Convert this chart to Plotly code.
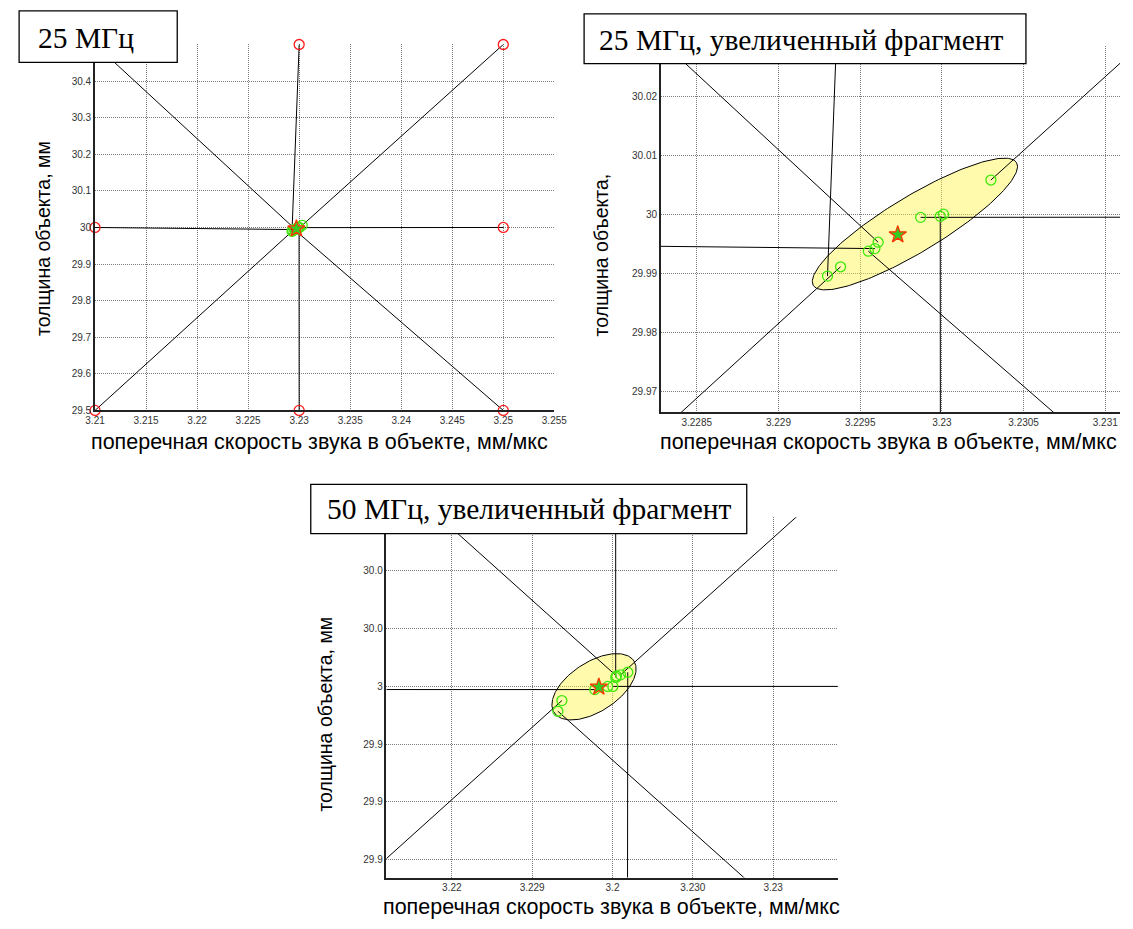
import numpy as np
import plotly.graph_objects as go

W, H = 1133, 929

# ---------------- data ----------------
# initial guesses (velocity mm/us, thickness mm) - same for both frequencies
start_v = [3.21, 3.21, 3.21, 3.23, 3.25, 3.25, 3.25, 3.23]
start_h = [29.5, 30.0, 30.5, 30.5, 30.5, 30.0, 29.5, 29.5]

# 25 MHz converged estimates (first 8 correspond to start points, last one extra)
end_v25 = [3.22938, 3.22959, 3.22961, 3.22930, 3.23030, 3.22987, 3.22955, 3.22999, 3.23001]
end_h25 = [29.99117, 29.99426, 29.99534, 29.98959, 30.0059, 29.99956, 29.99382, 29.99973, 30.0001]
mean_v25, mean_h25 = 3.22973, 29.99662
ell25_center = (3.229835, 29.99843)
ell25_axis1 = (0.000622, 0.010422)
ell25_axis2 = (0.0000860, -0.004063)

# 50 MHz converged estimates
end_v50 = [3.229937, 3.229978, 3.230005, 3.230004, 3.230010, 3.2300004, 3.229932, 3.230019, 3.229994]
end_h50 = [29.99951, 29.99989, 30.00036, 30.00031, 30.00040, 30.00000, 29.99914, 30.00049, 30.00000]
mean_v50, mean_h50 = 3.229983, 29.99998
ell50_center = (3.229977, 29.999987)
ell50_axis1 = (0.0000498, 0.000889)
ell50_axis2 = (0.0000163, -0.000727)

# tick values / labels
x1_ticks = [3.21, 3.215, 3.22, 3.225, 3.23, 3.235, 3.24, 3.245, 3.25, 3.255]
x1_text = ["3.21", "3.215", "3.22", "3.225", "3.23", "3.235", "3.24", "3.245", "3.25", "3.255"]
y1_ticks = [29.5, 29.6, 29.7, 29.8, 29.9, 30.0, 30.1, 30.2, 30.3, 30.4, 30.5]
y1_text = ["29.5", "29.6", "29.7", "29.8", "29.9", "30", "30.1", "30.2", "30.3", "30.4", ""]
x2_ticks = [3.2285, 3.229, 3.2295, 3.23, 3.2305, 3.231]
x2_text = ["3.2285", "3.229", "3.2295", "3.23", "3.2305", "3.231"]
y2_ticks = [29.97, 29.98, 29.99, 30.0, 30.01, 30.02]
y2_text = ["29.97", "29.98", "29.99", "30", "30.01", "30.02"]
x3_ticks = [3.2298, 3.2299, 3.2300, 3.2301, 3.2302]
x3_text = ["3.22", "3.229", "3.2", "3.230", "3.23"]
y3_ticks = [29.994, 29.996, 29.998, 30.000, 30.002, 30.004]
y3_text = ["29.9", "29.9", "29.9", "3", "30.0", "30.0"]

x_title = "поперечная скорость звука в объекте, мм/мкс"
y_title = "толщина объекта, мм"
y_title_short = "толщина объекта,"
labels = ["25 МГц", "25 МГц, увеличенный фрагмент", "50 МГц, увеличенный фрагмент"]

# ---------------- figure ----------------
fig = go.Figure()

LINE_C = "black"
GREEN = "#3ee80a"
RED = "#ff1a1a"


def segs(sv, sh, ev, eh):
    xs, ys = [], []
    for a, b, c, d in zip(sv, sh, ev, eh):
        xs += [a, c, None]
        ys += [b, d, None]
    return xs, ys


def ellipse(center, a1, a2):
    t = np.linspace(0, 2 * np.pi, 200)
    x = center[0] + np.cos(t) * a1[0] + np.sin(t) * a2[0]
    y = center[1] + np.cos(t) * a1[1] + np.sin(t) * a2[1]
    return x, y


def add_panel(xa, ya, ev, eh, mv, mh, ell, show_starts):
    if ell is not None:
        ex, ey = ellipse(*ell)
        fig.add_trace(go.Scatter(x=ex, y=ey, mode="lines", fill="toself",
                                 fillcolor="rgba(255,244,70,0.45)",
                                 line=dict(color="black", width=1),
                                 xaxis=xa, yaxis=ya, hoverinfo="skip"))
    lx, ly = segs(start_v, start_h, ev, eh)
    fig.add_trace(go.Scatter(x=lx, y=ly, mode="lines",
                             line=dict(color=LINE_C, width=1),
                             xaxis=xa, yaxis=ya, hoverinfo="skip"))
    if show_starts:
        fig.add_trace(go.Scatter(x=start_v, y=start_h, mode="markers",
                                 marker=dict(symbol="circle-open", size=10,
                                             color=RED, line=dict(width=1.3)),
                                 cliponaxis=False, xaxis=xa, yaxis=ya))
    fig.add_trace(go.Scatter(x=ev, y=eh, mode="markers",
                             marker=dict(symbol="circle-open", size=10,
                                         color=GREEN, line=dict(width=1.3)),
                             cliponaxis=False, xaxis=xa, yaxis=ya))
    fig.add_trace(go.Scatter(x=[mv], y=[mh], mode="markers",
                             marker=dict(symbol="star", size=13, color="#33cc22",
                                         line=dict(color="#ff3300", width=1.3)),
                             cliponaxis=False, xaxis=xa, yaxis=ya))


add_panel("x", "y", end_v25, end_h25, mean_v25, mean_h25, None, True)
add_panel("x2", "y2", end_v25, end_h25, mean_v25, mean_h25,
          (ell25_center, ell25_axis1, ell25_axis2), False)
add_panel("x3", "y3", end_v50, end_h50, mean_v50, mean_h50,
          (ell50_center, ell50_axis1, ell50_axis2), False)

tickfont = dict(family="Liberation Sans, Arial", size=10, color="#333333")
axcommon = dict(showgrid=True, gridcolor="#7a7a7a", griddash="1px,1px", gridwidth=1,
                zeroline=False, showline=True, linecolor="#222222", linewidth=1.5,
                ticks="", tickfont=tickfont, mirror=False, tickmode="array")


def px_x(p):
    return p / W


def px_y(p):
    return 1 - p / H


fig.update_layout(
    width=W, height=H, margin=dict(l=0, r=0, t=0, b=0),
    paper_bgcolor="white", plot_bgcolor="white", showlegend=False,
    xaxis=dict(domain=[px_x(86.7), px_x(555.7)], range=[3.20999, 3.25501],
               tickvals=x1_ticks, ticktext=x1_text, anchor="y", **axcommon),
    yaxis=dict(domain=[px_y(412.7), px_y(44.7)], range=[29.4999, 30.5001],
               tickvals=y1_ticks, ticktext=y1_text, anchor="x", **axcommon),
    xaxis2=dict(domain=[px_x(664.3), 1.0], range=[3.22828, 3.23109],
                tickvals=x2_ticks, ticktext=x2_text, anchor="y2", **axcommon),
    yaxis2=dict(domain=[px_y(414.3), px_y(46)], range=[29.9665, 30.0287],
                tickvals=y2_ticks, ticktext=y2_text, anchor="x2", **axcommon),
    xaxis3=dict(domain=[px_x(384.3), px_x(845)], range=[3.2297187, 3.2302805],
                tickvals=x3_ticks, ticktext=x3_text, anchor="y3", **axcommon),
    yaxis3=dict(domain=[px_y(882.3), px_y(520)], range=[29.99338, 30.00586],
                tickvals=y3_ticks, ticktext=y3_text, anchor="x3", **axcommon),
)

# label boxes (white rectangles above traces)
boxes = [(9.3, 11, 170.7, 62.7), (586, 14, 1037, 64), (307, 487, 752, 536.5)]
for (x0, y0, x1, y1) in boxes:
    fig.add_shape(type="rect", xref="paper", yref="paper",
                  x0=px_x(x0), x1=px_x(x1), y0=px_y(y1), y1=px_y(y0),
                  fillcolor="white", line=dict(color="black", width=1.3),
                  layer="above")

box_text_pos = [(77.5, 38), (807.5, 40), (530, 512)]
for txt, (cx, cy) in zip(labels, box_text_pos):
    fig.add_annotation(text=txt, x=px_x(cx), y=px_y(cy), xref="paper", yref="paper",
                       xanchor="center", yanchor="middle", showarrow=False,
                       font=dict(family="Liberation Serif, Times New Roman", size=29.5,
                                 color="black"))

xtitle_font = dict(family="Liberation Sans, Arial", size=21.5, color="black")
ytitle_font = dict(family="Liberation Sans, Arial", size=19.5, color="black")
for (cx, cy) in [(316, 444), (897, 444), (614, 912)]:
    fig.add_annotation(text=x_title, x=px_x(cx), y=px_y(cy), xref="paper", yref="paper",
                       xanchor="center", yanchor="middle", showarrow=False,
                       font=xtitle_font)
for txt, (cx, cy) in [(y_title, (33, 240)), (y_title_short, (603, 256)), (y_title, (322, 718))]:
    fig.add_annotation(text=txt, x=px_x(cx), y=px_y(cy), xref="paper", yref="paper",
                       xanchor="center", yanchor="middle", showarrow=False,
                       textangle=-90, font=ytitle_font)

fig.write_html("out.html")
